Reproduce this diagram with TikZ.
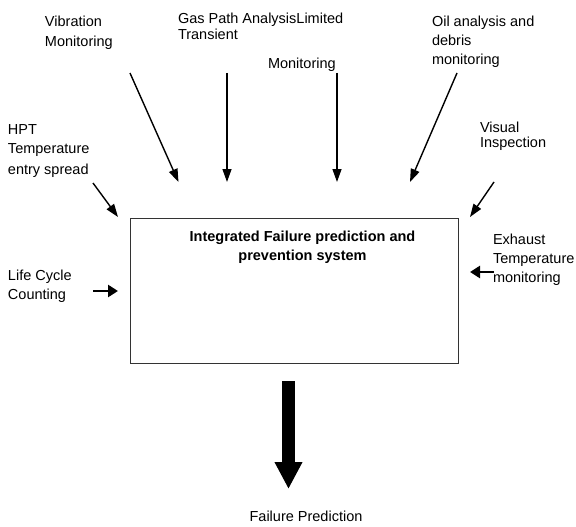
\documentclass[tikz,border=0pt]{standalone}
\usepackage{fontspec}
\setmainfont{Liberation Sans}
\usetikzlibrary{arrows.meta}
\tikzset{
  lbl/.style={anchor=base west, inner sep=0pt, outer sep=0pt, text=black},
  feed/.style={line width=1.4pt, -{Triangle[length=13pt,width=9pt]}},
  stub/.style={line width=2.8pt, -{Triangle[length=10pt,width=12pt]}},
  big/.style={line width=12.5pt, -{Triangle[length=27pt,width=26pt]}},
  sysbox/.style={draw=black!80, line width=0.9pt, fill=white, inner sep=0pt}
}
\newcommand{\rows}[3]{{\fontsize{14.5}{#1}\selectfont\setlength{\tabcolsep}{0pt}\renewcommand{\arraystretch}{1}\begin{tabular}[t]{#2}#3\end{tabular}}}
\begin{document}
\begin{tikzpicture}[x=1pt,y=-1pt]
\useasboundingbox (0,0) rectangle (576,527);
% system box
\node[sysbox, minimum width=328pt, minimum height=145pt, anchor=north west] (sys) at (130,218) {};
\node[anchor=base, inner sep=0pt] (title) at (302.5,241) {\bfseries\rows{19}{c}{Integrated Failure prediction and\\prevention system}};
% labels
\node[lbl] (vib) at (45,27) {\rows{20}{l}{Vibration\\Monitoring}};
\node[lbl] (gas) at (178,24) {\rows{15}{l}{Gas Path AnalysisLimited\\Transient}};
\node[lbl] (mon) at (268,69) {\rows{15}{l}{Monitoring}};
\node[lbl] (oil) at (432,27) {\rows{19}{l}{Oil analysis and\\debris\\monitoring}};
\node[lbl] (vis) at (480,132) {\rows{15}{l}{Visual\\Inspection}};
\node[lbl] (hpt) at (8,134) {\rows{20}{l}{HPT\\Temperature\\entry spread}};
\node[lbl] (life) at (8,280) {\rows{19}{l}{Life Cycle\\Counting}};
\node[lbl] (exh) at (493,244) {\rows{19}{l}{Exhaust\\Temperature\\monitoring}};
\node[anchor=base, inner sep=0pt, text=black] (fp) at (306,521) {\fontsize{14.5}{17}\selectfont Failure Prediction};
% arrow end points
\coordinate (vibS) at (130,73);  \coordinate (vibE) at (178.5,182);
\coordinate (gasS) at (227,73);  \coordinate (gasE) at (227,182);
\coordinate (monS) at (337,73);  \coordinate (monE) at (337,182);
\coordinate (oilS) at (457,73);  \coordinate (oilE) at (410,182);
\coordinate (visS) at (494,182); \coordinate (visE) at (470,217);
\coordinate (hptS) at (93,183);  \coordinate (hptE) at (118,217);
\coordinate (lifeS) at (93,291); \coordinate (lifeE) at (118,291);
\coordinate (exhS) at (494,272); \coordinate (exhE) at (470,272);
\coordinate (bigS) at (288.5,381); \coordinate (bigE) at (288.5,489);
% arrows
\draw[feed] (vibS) -- (vibE);
\draw[feed] (gasS) -- (gasE);
\draw[feed] (monS) -- (monE);
\draw[feed] (oilS) -- (oilE);
\draw[feed] (visS) -- (visE);
\draw[feed] (hptS) -- (hptE);
\draw[stub] (lifeS) -- (lifeE);
\draw[stub] (exhS) -- (exhE);
\draw[big] (bigS) -- (bigE);
\end{tikzpicture}
\end{document}
